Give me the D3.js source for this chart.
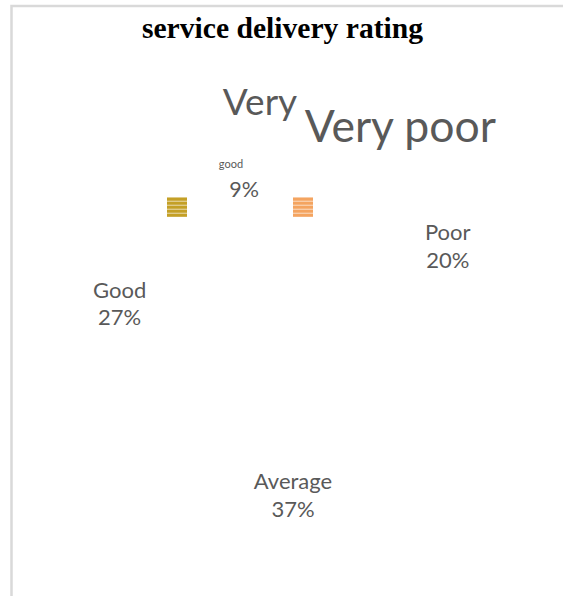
<!DOCTYPE html>
<html>
<head>
<meta charset="utf-8">
<script src="https://cdn.jsdelivr.net/npm/d3@7"></script>
<style>
  html, body { margin: 0; padding: 0; background: #ffffff; }
  svg { display: block; }
</style>
</head>
<body>
<svg id="chart" width="563" height="596"></svg>
<script>
// Service delivery rating — share of responses per rating
const categories = ["Very good", "Very poor", "Poor", "Average", "Good"];
const shares = [9, 7, 20, 37, 27];
const showPercent = [true, false, true, true, true];
const keyColors = ["#c4a028", "#f4a460"];   // legend keys shown beside the top labels
const title = "service delivery rating";

const W = 563, H = 596;
const svg = d3.select("#chart");
const textColor = "#595959";
const font = "Lato, 'Open Sans', sans-serif";

// chart frame (partially clipped by the page edge)
svg.append("rect")
  .attr("x", 11.5).attr("y", 6)
  .attr("width", W + 20).attr("height", H + 20)
  .attr("fill", "none").attr("stroke", "#d9d9d9").attr("stroke-width", 2.5);

svg.append("text")
  .attr("x", 282.5).attr("y", 38)
  .attr("text-anchor", "middle")
  .attr("font-family", "'Liberation Serif', 'Times New Roman', serif")
  .attr("font-weight", "bold")
  .attr("font-size", 29.6)
  .attr("fill", "#000")
  .text(title);

// pie geometry
const cx = 293, cy = 320, labelR = 175;
const deg = Math.PI / 180;
const pie = d3.pie().sort(null).value(d => d.value)
  .startAngle(-16.2 * deg).endAngle(343.8 * deg);
const data = categories.map((c, i) => ({ name: c, value: shares[i], pct: showPercent[i] }));
const arcs = pie(data);

const slice = d3.arc().innerRadius(0).outerRadius(160);
const labelArc = d3.arc().innerRadius(labelR).outerRadius(labelR);

const g = svg.append("g").attr("transform", `translate(${cx},${cy})`);

// slices are drawn with a white fill, so only the labels stand out
g.selectAll("path.slice").data(arcs).join("path")
  .attr("class", "slice")
  .attr("d", slice)
  .attr("fill", "#ffffff")
  .attr("stroke", "none");

// label pieces, offset from each slice's label point
const labelLayout = {
  "Very good": [
    { part: "word0", dx: -33, dy: -30, size: 37 },
    { part: "word1", dx: -62, dy: 23, size: 11 },
    { part: "pct",   dx: -49, dy: 52, size: 21.5 }
  ],
  "Very poor": [
    { part: "name", dx: 23, dy: -25, size: 44.5 }
  ],
  "Poor": [
    { part: "name", dx: -16, dy: -42, size: 22 },
    { part: "pct",  dx: -16, dy: -14, size: 22 }
  ],
  "Average": [
    { part: "name", dx: 0, dy: -6, size: 22 },
    { part: "pct",  dx: 0, dy: 22, size: 22 }
  ],
  "Good": [
    { part: "name", dx: -15, dy: 52, size: 22 },
    { part: "pct",  dx: -15, dy: 79, size: 22 }
  ]
};

function partText(d, part) {
  if (part === "name") return d.data.name;
  if (part === "pct") return d.data.value + "%";
  const words = d.data.name.split(" ");
  return part === "word0" ? words[0] : words[1];
}

arcs.forEach(d => {
  const [px, py] = labelArc.centroid(d);
  labelLayout[d.data.name]
    .filter(p => p.part !== "pct" || d.data.pct)
    .forEach(p => {
      g.append("text")
        .attr("x", px + p.dx).attr("y", py + p.dy)
        .attr("text-anchor", "middle")
        .attr("font-family", font)
        .attr("font-size", p.size)
        .attr("fill", textColor)
        .text(partText(d, p.part));
    });
});

// striped legend keys near the "Very good" label
const keyOffsets = [{ dx: -126, dy: 52 }, { dx: 0, dy: 52 }];
const vg = arcs[0];
const [vx, vy] = labelArc.centroid(vg);
const defs = svg.append("defs");
defs.append("filter").attr("id", "soft")
  .append("feGaussianBlur").attr("stdDeviation", 0.5);

keyColors.forEach((col, i) => {
  const kg = g.append("g")
    .attr("transform", `translate(${vx + keyOffsets[i].dx},${vy + keyOffsets[i].dy})`)
    .attr("filter", "url(#soft)");
  const light = d3.interpolateRgb(col, "#ffffff")(0.45);
  kg.append("rect").attr("width", 20).attr("height", 20).attr("fill", light);
  d3.range(5).forEach(k => {
    kg.append("rect")
      .attr("x", 0).attr("y", 1 + k * 4)
      .attr("width", 20).attr("height", 2.6)
      .attr("fill", col);
  });
});
</script>
</body>
</html>
